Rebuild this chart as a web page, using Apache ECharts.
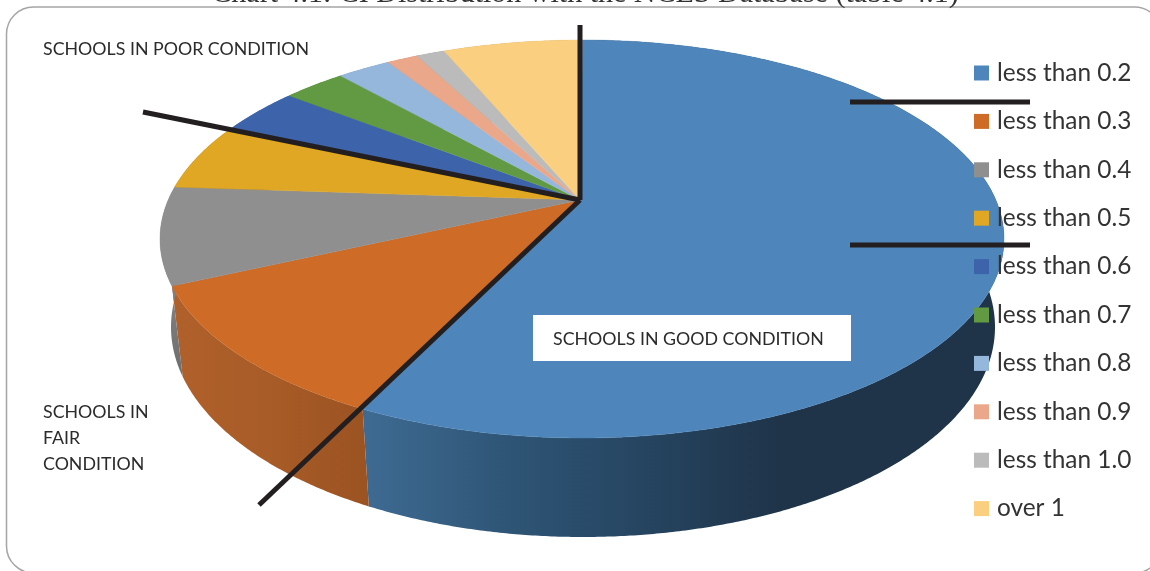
<!DOCTYPE html>
<html><head><meta charset="utf-8">
<style>html,body{margin:0;padding:0;background:#fff}#c{width:1150px;height:571px}</style>
<script src="https://cdn.jsdelivr.net/npm/echarts@6/dist/echarts.min.js"></script>
</head><body><div id="c"></div>
<script>
const categories = ['less than 0.2','less than 0.3','less than 0.4','less than 0.5','less than 0.6','less than 0.7','less than 0.8','less than 0.9','less than 1.0','over 1'];
const shares = [58.7,12.5,8.0,5.2,3.4,2.5,2.1,1.2,1.1,5.3];
const colors = ['#4e86bb','#cd6b27','#8f8f8f','#dfa723','#3d64ab','#619a42','#95b7dc','#eba789','#bbbbbb','#facf80'];
const wallColors = ['#2f5677','#a85c27','#7d7d7d','#a67c1a','#2d4a80','#487331','#6f88a4','#af7c66','#8b8b8b','#ba9a5f'];
const titleText = 'Chart 4.1: CI Distribution with the NCES Database (table 4.1)';
const poorLabel = 'SCHOOLS IN POOR CONDITION';
const fairLabel = 'SCHOOLS IN\nFAIR\nCONDITION';
const goodLabel = 'SCHOOLS IN GOOD CONDITION';

const apex = [580,200];
const topRim = {cx:582, cy:239, rx:422, ry:199};
const baseRim = {cx:583, cy:327, rx:412, ry:210};
const total = shares.reduce((a,b)=>a+b,0);
const rimPoint = (e,t)=>[e.cx+e.rx*Math.sin(t), e.cy-e.ry*Math.cos(t)];
const arcPoints = (e,t0,t1)=>{
  const n=Math.max(2,Math.ceil(Math.abs(t1-t0)/0.008)), pts=[];
  for(let i=0;i<=n;i++) pts.push(rimPoint(e,t0+(t1-t0)*i/n));
  return pts;
};
const chart = echarts.init(document.getElementById('c'),null,{renderer:'canvas'});
const grad=(x0,x1,stops)=>new echarts.graphic.LinearGradient(x0,0,x1,0,stops.map((c,i)=>({offset:i/(stops.length-1),color:c})),true);
const wallFill=i=>{
  if(i===0) return grad(361,780,['#3f6b93','#2f5677','#264561','#1f3449']);
  if(i===1) return grad(172,367,['#b0602b','#a85c27','#9b5322']);
  if(i===2) return new echarts.graphic.LinearGradient(0,240,0,370,[{offset:0,color:'#8c8c8c'},{offset:1,color:'#6f6f6f'}],true);
  return wallColors[i];
};
const series = categories.map((name,i)=>({
  type:'custom', name, coordinateSystem:'none', silent:true, animation:false,
  itemStyle:{color:colors[i]}, data:[[shares[i]]],
  renderItem(params,api){
    const before=shares.slice(0,i).reduce((a,b)=>a+b,0);
    const t0=before/total*2*Math.PI, t1=t0+api.value(0)/total*2*Math.PI;
    const rim=arcPoints(topRim,t0,t1);
    const base=arcPoints(baseRim,t1,t0);
    return {type:'group',children:[
      {type:'polygon',z2:1,shape:{points:rim.concat(base)},style:{fill:wallFill(i)}},
      {type:'polygon',z2:10+i,shape:{points:[apex].concat(rim)},style:{fill:colors[i],stroke:colors[i],lineWidth:0.4}}
    ]};
  }
}));
const ink='#231f20';
const bar=(x1,y1,x2,y2)=>({type:'line',z:3,silent:true,shape:{x1,y1,x2,y2},style:{stroke:ink,lineWidth:5}});
chart.setOption({
  animation:false,
  backgroundColor:'#fff',
  legend:{
    show:true, data:categories, orient:'vertical', left:969, top:56, z:5,
    icon:'rect', itemWidth:15, itemHeight:15, itemGap:24.4, selectedMode:false,
    textStyle:{fontFamily:'Lato',fontSize:24.4,color:'#333',padding:[0,0,0,3],height:22,lineHeight:22}
  },
  graphic:{elements:[
    {type:'rect',z:0,silent:true,shape:{x:6.5,y:7,width:1155,height:566,r:27},style:{fill:'#fff',stroke:'#a5a5a5',lineWidth:1.5}},
    {type:'text',z:1,silent:true,style:{x:585,y:9,text:titleText,fill:'#333',font:'30px "Liberation Serif"',align:'center',verticalAlign:'bottom'}},
    bar(580,25,580,200), bar(143,112,580,200), bar(580,200,259,505),
    bar(850,102,1030,102), bar(850,245,1030,245),
    {type:'rect',z:4,silent:true,shape:{x:533,y:315,width:318,height:46},style:{fill:'#fff'}},
    {type:'text',z:6,silent:true,style:{x:553,y:339,text:goodLabel,fill:'#2b2b2b',font:'17.8px Lato',verticalAlign:'middle'}},
    {type:'text',z:6,silent:true,style:{x:43,y:49,text:poorLabel,fill:'#2b2b2b',font:'17.8px Lato',verticalAlign:'middle'}},
    {type:'text',z:6,silent:true,style:{x:43,y:399,text:fairLabel,fill:'#2b2b2b',font:'17.8px Lato',lineHeight:26,verticalAlign:'top'}}
  ]},
  series
});
</script></body></html>
